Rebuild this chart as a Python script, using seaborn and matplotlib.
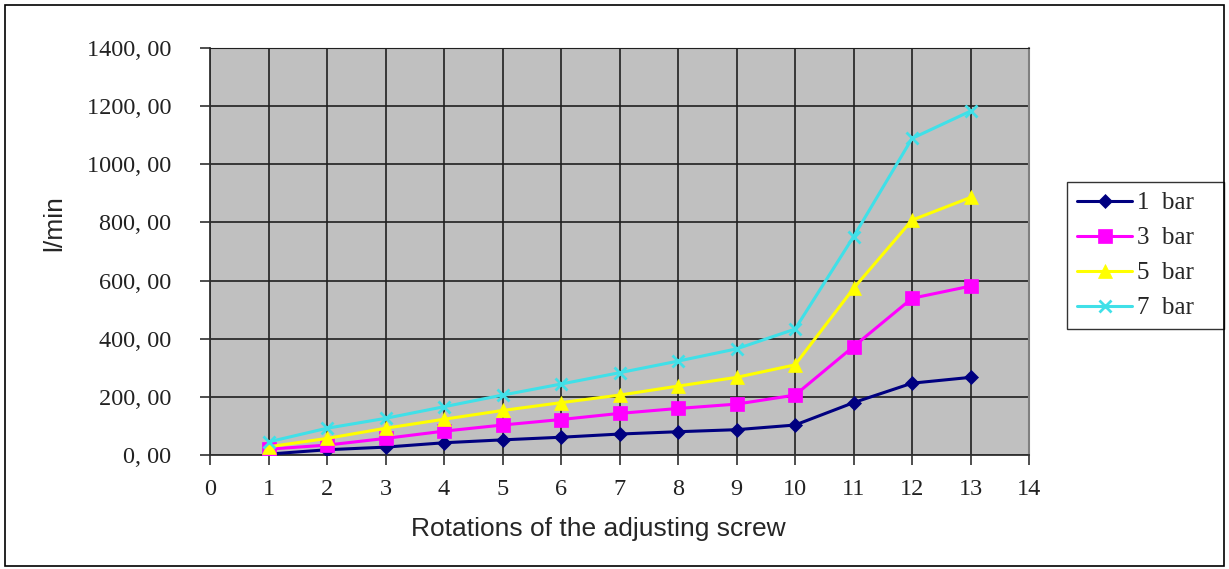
import matplotlib
matplotlib.use("Agg")
import matplotlib.pyplot as plt
import matplotlib.ticker as mticker
from matplotlib.patches import Rectangle
import seaborn as sns
import pandas as pd

rotations = [1, 2, 3, 4, 5, 6, 7, 8, 9, 10, 11, 12, 13]
flow_1bar = [3, 18, 27, 42, 52, 61, 72, 80, 87, 103, 180, 247, 267]
flow_3bar = [20, 34, 57, 82, 103, 122, 143, 160, 175, 206, 373, 539, 581]
flow_5bar = [28, 57, 92, 123, 153, 180, 206, 237, 267, 310, 573, 808, 886]
flow_7bar = [45, 92, 126, 166, 206, 244, 283, 323, 365, 433, 751, 1089, 1183]
series_names = ["1  bar", "3  bar", "5  bar", "7  bar"]

colors = ["#000080", "#FF00FF", "#FFFF00", "#40E0E8"]
markers = ["D", "s", "^", "x"]
msizes = [7, 10, 10, 9]

df = pd.DataFrame({
    "rot": rotations * 4,
    "flow": flow_1bar + flow_3bar + flow_5bar + flow_7bar,
    "series": sum([[n] * len(rotations) for n in series_names], []),
})

sns.set_style("white")
plt.rcParams["font.family"] = ["Liberation Serif", "DejaVu Serif"]

fig = plt.figure(figsize=(12.29, 5.69), dpi=100)
ax = fig.add_axes([0.1709, 0.2004, 0.8373 - 0.1709, 0.9156 - 0.2004])
ax.set_facecolor("#C0C0C0")

for name, c, m, ms in zip(series_names, colors, markers, msizes):
    sub = df[df["series"] == name]
    sns.lineplot(data=sub, x="rot", y="flow", ax=ax, color=c, marker=m,
                 markersize=ms, markeredgecolor=c, markerfacecolor=c,
                 markeredgewidth=2 if m == "x" else 0.5, linewidth=2.2,
                 label=name, zorder=3)

ax.set_xlim(0, 14)
ax.set_ylim(0, 1400)
ax.xaxis.set_major_locator(mticker.MultipleLocator(1))
ax.yaxis.set_major_locator(mticker.MultipleLocator(200))
ax.yaxis.set_major_formatter(mticker.FuncFormatter(lambda v, p: f"{v:.2f}".replace(".", ", ")))
ax.grid(True, color="#202020", linewidth=1.2, zorder=1)
ax.set_axisbelow(True)

ax.tick_params(axis="both", direction="out", length=7, width=1.2, color="#303030",
               labelsize=17.5, labelcolor="#222222", left=True, bottom=True)
ax.tick_params(axis="y", pad=21)
ax.tick_params(axis="x", pad=10)
for side in ["left", "bottom"]:
    ax.spines[side].set_color("#303030")
    ax.spines[side].set_linewidth(1.3)
ax.spines["top"].set_color("#202020")
ax.spines["right"].set_color("#808080")
ax.spines["right"].set_linewidth(1.5)

ax.set_xlabel("Rotations of the adjusting screw", fontsize=19, family="Liberation Sans",
              va="top")
ax.xaxis.set_label_coords(0.474, -0.152)
ax.set_ylabel("l/min", fontsize=19, family="Liberation Sans", va="center")
ax.yaxis.set_label_coords(-0.190, 0.57)

leg = ax.legend(loc="upper left", bbox_to_anchor=(1.0464, 0.671, 0.1917, 0.0),
                mode="expand", frameon=True, fancybox=False, edgecolor="black",
                fontsize=18, handlelength=2.2, handletextpad=0.2, borderpad=0.4,
                labelspacing=0.5, borderaxespad=0)
leg.get_frame().set_linewidth(1.0)

fig.patches.append(Rectangle((0.004, 0.006), 0.992, 0.986, transform=fig.transFigure,
                             fill=False, edgecolor="black", linewidth=1.2))

fig.savefig("out.png", dpi=100, facecolor="white")
